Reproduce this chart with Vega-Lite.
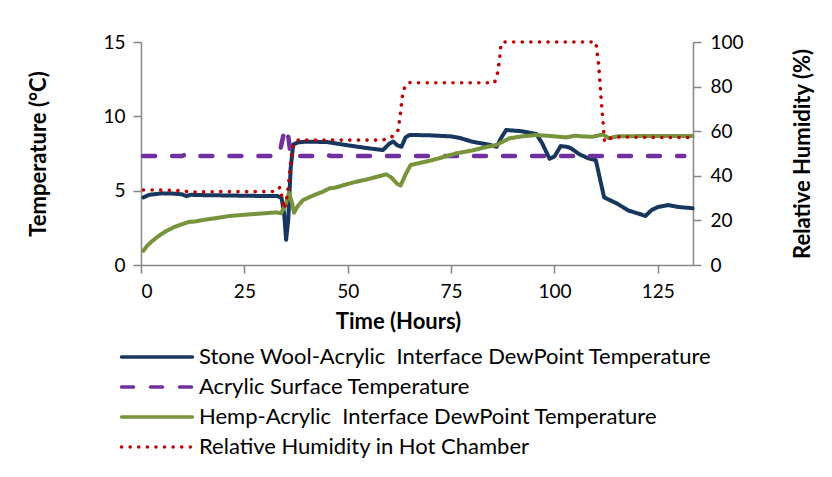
{
  "$schema": "https://vega.github.io/schema/vega-lite/v6.json",
  "width": 552,
  "height": 223,
  "autosize": {"type": "none"},
  "padding": {"left": 141, "top": 42, "right": 139, "bottom": 212},
  "background": "white",
  "config": {
    "view": {"stroke": null},
    "font": "Lato",
    "axis": {
      "domainColor": "#868686",
      "domainWidth": 1.5,
      "tickColor": "#868686",
      "tickWidth": 1.5,
      "tickSize": 8,
      "grid": false,
      "labelFont": "Lato",
      "labelFontSize": 19,
      "labelColor": "#000000",
      "labelPadding": 8,
      "titleFont": "Lato",
      "titleFontSize": 22,
      "titleFontWeight": "bold",
      "titleColor": "#000000"
    }
  },
  "datasets": {
    "d": [
      {"s": "Stone Wool-Acrylic \u00a0Interface DewPoint Temperature", "h": 0.6, "v": 4.55},
      {"s": "Stone Wool-Acrylic \u00a0Interface DewPoint Temperature", "h": 2, "v": 4.72},
      {"s": "Stone Wool-Acrylic \u00a0Interface DewPoint Temperature", "h": 5, "v": 4.82},
      {"s": "Stone Wool-Acrylic \u00a0Interface DewPoint Temperature", "h": 8, "v": 4.8},
      {"s": "Stone Wool-Acrylic \u00a0Interface DewPoint Temperature", "h": 10, "v": 4.75},
      {"s": "Stone Wool-Acrylic \u00a0Interface DewPoint Temperature", "h": 11, "v": 4.63},
      {"s": "Stone Wool-Acrylic \u00a0Interface DewPoint Temperature", "h": 12, "v": 4.72},
      {"s": "Stone Wool-Acrylic \u00a0Interface DewPoint Temperature", "h": 15, "v": 4.7},
      {"s": "Stone Wool-Acrylic \u00a0Interface DewPoint Temperature", "h": 20, "v": 4.68},
      {"s": "Stone Wool-Acrylic \u00a0Interface DewPoint Temperature", "h": 25, "v": 4.66},
      {"s": "Stone Wool-Acrylic \u00a0Interface DewPoint Temperature", "h": 30, "v": 4.64},
      {"s": "Stone Wool-Acrylic \u00a0Interface DewPoint Temperature", "h": 33, "v": 4.64},
      {"s": "Stone Wool-Acrylic \u00a0Interface DewPoint Temperature", "h": 34, "v": 4.5},
      {"s": "Stone Wool-Acrylic \u00a0Interface DewPoint Temperature", "h": 34.6, "v": 3.5},
      {"s": "Stone Wool-Acrylic \u00a0Interface DewPoint Temperature", "h": 35.1, "v": 1.7},
      {"s": "Stone Wool-Acrylic \u00a0Interface DewPoint Temperature", "h": 35.6, "v": 3.0},
      {"s": "Stone Wool-Acrylic \u00a0Interface DewPoint Temperature", "h": 36.2, "v": 6.5},
      {"s": "Stone Wool-Acrylic \u00a0Interface DewPoint Temperature", "h": 36.8, "v": 8.1},
      {"s": "Stone Wool-Acrylic \u00a0Interface DewPoint Temperature", "h": 38, "v": 8.25},
      {"s": "Stone Wool-Acrylic \u00a0Interface DewPoint Temperature", "h": 40, "v": 8.3},
      {"s": "Stone Wool-Acrylic \u00a0Interface DewPoint Temperature", "h": 45, "v": 8.27},
      {"s": "Stone Wool-Acrylic \u00a0Interface DewPoint Temperature", "h": 50, "v": 8.05},
      {"s": "Stone Wool-Acrylic \u00a0Interface DewPoint Temperature", "h": 55, "v": 7.85},
      {"s": "Stone Wool-Acrylic \u00a0Interface DewPoint Temperature", "h": 58.5, "v": 7.73},
      {"s": "Stone Wool-Acrylic \u00a0Interface DewPoint Temperature", "h": 60, "v": 8.15},
      {"s": "Stone Wool-Acrylic \u00a0Interface DewPoint Temperature", "h": 61, "v": 8.3},
      {"s": "Stone Wool-Acrylic \u00a0Interface DewPoint Temperature", "h": 62, "v": 8.05},
      {"s": "Stone Wool-Acrylic \u00a0Interface DewPoint Temperature", "h": 63, "v": 7.95},
      {"s": "Stone Wool-Acrylic \u00a0Interface DewPoint Temperature", "h": 64, "v": 8.6},
      {"s": "Stone Wool-Acrylic \u00a0Interface DewPoint Temperature", "h": 65, "v": 8.75},
      {"s": "Stone Wool-Acrylic \u00a0Interface DewPoint Temperature", "h": 70, "v": 8.72},
      {"s": "Stone Wool-Acrylic \u00a0Interface DewPoint Temperature", "h": 75, "v": 8.65},
      {"s": "Stone Wool-Acrylic \u00a0Interface DewPoint Temperature", "h": 77, "v": 8.55},
      {"s": "Stone Wool-Acrylic \u00a0Interface DewPoint Temperature", "h": 80, "v": 8.3},
      {"s": "Stone Wool-Acrylic \u00a0Interface DewPoint Temperature", "h": 84, "v": 8.1},
      {"s": "Stone Wool-Acrylic \u00a0Interface DewPoint Temperature", "h": 86, "v": 7.95},
      {"s": "Stone Wool-Acrylic \u00a0Interface DewPoint Temperature", "h": 87, "v": 8.5},
      {"s": "Stone Wool-Acrylic \u00a0Interface DewPoint Temperature", "h": 88.3, "v": 9.08},
      {"s": "Stone Wool-Acrylic \u00a0Interface DewPoint Temperature", "h": 92, "v": 9.0},
      {"s": "Stone Wool-Acrylic \u00a0Interface DewPoint Temperature", "h": 95.6, "v": 8.81},
      {"s": "Stone Wool-Acrylic \u00a0Interface DewPoint Temperature", "h": 97, "v": 8.2},
      {"s": "Stone Wool-Acrylic \u00a0Interface DewPoint Temperature", "h": 98.8, "v": 7.15},
      {"s": "Stone Wool-Acrylic \u00a0Interface DewPoint Temperature", "h": 100, "v": 7.3},
      {"s": "Stone Wool-Acrylic \u00a0Interface DewPoint Temperature", "h": 101.5, "v": 8.0},
      {"s": "Stone Wool-Acrylic \u00a0Interface DewPoint Temperature", "h": 103, "v": 7.95},
      {"s": "Stone Wool-Acrylic \u00a0Interface DewPoint Temperature", "h": 104, "v": 7.85},
      {"s": "Stone Wool-Acrylic \u00a0Interface DewPoint Temperature", "h": 106, "v": 7.45},
      {"s": "Stone Wool-Acrylic \u00a0Interface DewPoint Temperature", "h": 108, "v": 7.2},
      {"s": "Stone Wool-Acrylic \u00a0Interface DewPoint Temperature", "h": 110, "v": 7.05},
      {"s": "Stone Wool-Acrylic \u00a0Interface DewPoint Temperature", "h": 111, "v": 5.8},
      {"s": "Stone Wool-Acrylic \u00a0Interface DewPoint Temperature", "h": 112, "v": 4.55},
      {"s": "Stone Wool-Acrylic \u00a0Interface DewPoint Temperature", "h": 113.5, "v": 4.35},
      {"s": "Stone Wool-Acrylic \u00a0Interface DewPoint Temperature", "h": 115, "v": 4.15},
      {"s": "Stone Wool-Acrylic \u00a0Interface DewPoint Temperature", "h": 116.5, "v": 3.9},
      {"s": "Stone Wool-Acrylic \u00a0Interface DewPoint Temperature", "h": 118, "v": 3.65},
      {"s": "Stone Wool-Acrylic \u00a0Interface DewPoint Temperature", "h": 120, "v": 3.48},
      {"s": "Stone Wool-Acrylic \u00a0Interface DewPoint Temperature", "h": 122, "v": 3.3},
      {"s": "Stone Wool-Acrylic \u00a0Interface DewPoint Temperature", "h": 123.5, "v": 3.7},
      {"s": "Stone Wool-Acrylic \u00a0Interface DewPoint Temperature", "h": 125, "v": 3.9},
      {"s": "Stone Wool-Acrylic \u00a0Interface DewPoint Temperature", "h": 127.5, "v": 4.03},
      {"s": "Stone Wool-Acrylic \u00a0Interface DewPoint Temperature", "h": 130, "v": 3.9},
      {"s": "Stone Wool-Acrylic \u00a0Interface DewPoint Temperature", "h": 133.4, "v": 3.82},

      {"s": "Acrylic Surface Temperature", "h": 0.5, "v": 7.33},
      {"s": "Acrylic Surface Temperature", "h": 10, "v": 7.33},
      {"s": "Acrylic Surface Temperature", "h": 10.6, "v": 7.42},
      {"s": "Acrylic Surface Temperature", "h": 11.2, "v": 7.33},
      {"s": "Acrylic Surface Temperature", "h": 33.3, "v": 7.33},
      {"s": "Acrylic Surface Temperature", "h": 33.8, "v": 7.9},
      {"s": "Acrylic Surface Temperature", "h": 34.5, "v": 8.8},
      {"s": "Acrylic Surface Temperature", "h": 35.2, "v": 9.2},
      {"s": "Acrylic Surface Temperature", "h": 35.7, "v": 8.5},
      {"s": "Acrylic Surface Temperature", "h": 36.2, "v": 7.33},
      {"s": "Acrylic Surface Temperature", "h": 44, "v": 7.33},
      {"s": "Acrylic Surface Temperature", "h": 45, "v": 7.4},
      {"s": "Acrylic Surface Temperature", "h": 46, "v": 7.33},
      {"s": "Acrylic Surface Temperature", "h": 131.4, "v": 7.33},

      {"s": "Hemp-Acrylic \u00a0Interface DewPoint Temperature", "h": 0.6, "v": 0.96},
      {"s": "Hemp-Acrylic \u00a0Interface DewPoint Temperature", "h": 1.5, "v": 1.3},
      {"s": "Hemp-Acrylic \u00a0Interface DewPoint Temperature", "h": 3, "v": 1.68},
      {"s": "Hemp-Acrylic \u00a0Interface DewPoint Temperature", "h": 4.5, "v": 2.0},
      {"s": "Hemp-Acrylic \u00a0Interface DewPoint Temperature", "h": 6.2, "v": 2.3},
      {"s": "Hemp-Acrylic \u00a0Interface DewPoint Temperature", "h": 8, "v": 2.55},
      {"s": "Hemp-Acrylic \u00a0Interface DewPoint Temperature", "h": 10, "v": 2.75},
      {"s": "Hemp-Acrylic \u00a0Interface DewPoint Temperature", "h": 11.8, "v": 2.91},
      {"s": "Hemp-Acrylic \u00a0Interface DewPoint Temperature", "h": 13, "v": 2.92},
      {"s": "Hemp-Acrylic \u00a0Interface DewPoint Temperature", "h": 15, "v": 3.03},
      {"s": "Hemp-Acrylic \u00a0Interface DewPoint Temperature", "h": 18, "v": 3.15},
      {"s": "Hemp-Acrylic \u00a0Interface DewPoint Temperature", "h": 21.5, "v": 3.3},
      {"s": "Hemp-Acrylic \u00a0Interface DewPoint Temperature", "h": 25, "v": 3.38},
      {"s": "Hemp-Acrylic \u00a0Interface DewPoint Temperature", "h": 29, "v": 3.46},
      {"s": "Hemp-Acrylic \u00a0Interface DewPoint Temperature", "h": 32.8, "v": 3.54},
      {"s": "Hemp-Acrylic \u00a0Interface DewPoint Temperature", "h": 33.9, "v": 3.48},
      {"s": "Hemp-Acrylic \u00a0Interface DewPoint Temperature", "h": 35, "v": 4.1},
      {"s": "Hemp-Acrylic \u00a0Interface DewPoint Temperature", "h": 35.8, "v": 4.86},
      {"s": "Hemp-Acrylic \u00a0Interface DewPoint Temperature", "h": 36.5, "v": 4.2},
      {"s": "Hemp-Acrylic \u00a0Interface DewPoint Temperature", "h": 37, "v": 3.52},
      {"s": "Hemp-Acrylic \u00a0Interface DewPoint Temperature", "h": 38, "v": 4.0},
      {"s": "Hemp-Acrylic \u00a0Interface DewPoint Temperature", "h": 39.2, "v": 4.37},
      {"s": "Hemp-Acrylic \u00a0Interface DewPoint Temperature", "h": 42, "v": 4.72},
      {"s": "Hemp-Acrylic \u00a0Interface DewPoint Temperature", "h": 44, "v": 4.93},
      {"s": "Hemp-Acrylic \u00a0Interface DewPoint Temperature", "h": 45.6, "v": 5.16},
      {"s": "Hemp-Acrylic \u00a0Interface DewPoint Temperature", "h": 47, "v": 5.2},
      {"s": "Hemp-Acrylic \u00a0Interface DewPoint Temperature", "h": 50, "v": 5.45},
      {"s": "Hemp-Acrylic \u00a0Interface DewPoint Temperature", "h": 52.1, "v": 5.6},
      {"s": "Hemp-Acrylic \u00a0Interface DewPoint Temperature", "h": 55, "v": 5.78},
      {"s": "Hemp-Acrylic \u00a0Interface DewPoint Temperature", "h": 59.3, "v": 6.1},
      {"s": "Hemp-Acrylic \u00a0Interface DewPoint Temperature", "h": 60.5, "v": 5.9},
      {"s": "Hemp-Acrylic \u00a0Interface DewPoint Temperature", "h": 62, "v": 5.45},
      {"s": "Hemp-Acrylic \u00a0Interface DewPoint Temperature", "h": 62.8, "v": 5.35},
      {"s": "Hemp-Acrylic \u00a0Interface DewPoint Temperature", "h": 64, "v": 6.1},
      {"s": "Hemp-Acrylic \u00a0Interface DewPoint Temperature", "h": 65.2, "v": 6.72},
      {"s": "Hemp-Acrylic \u00a0Interface DewPoint Temperature", "h": 68, "v": 6.9},
      {"s": "Hemp-Acrylic \u00a0Interface DewPoint Temperature", "h": 70.6, "v": 7.06},
      {"s": "Hemp-Acrylic \u00a0Interface DewPoint Temperature", "h": 73, "v": 7.25},
      {"s": "Hemp-Acrylic \u00a0Interface DewPoint Temperature", "h": 76.3, "v": 7.51},
      {"s": "Hemp-Acrylic \u00a0Interface DewPoint Temperature", "h": 80, "v": 7.7},
      {"s": "Hemp-Acrylic \u00a0Interface DewPoint Temperature", "h": 83, "v": 7.9},
      {"s": "Hemp-Acrylic \u00a0Interface DewPoint Temperature", "h": 85.9, "v": 8.07},
      {"s": "Hemp-Acrylic \u00a0Interface DewPoint Temperature", "h": 87.5, "v": 8.3},
      {"s": "Hemp-Acrylic \u00a0Interface DewPoint Temperature", "h": 89.1, "v": 8.52},
      {"s": "Hemp-Acrylic \u00a0Interface DewPoint Temperature", "h": 92, "v": 8.65},
      {"s": "Hemp-Acrylic \u00a0Interface DewPoint Temperature", "h": 95.6, "v": 8.74},
      {"s": "Hemp-Acrylic \u00a0Interface DewPoint Temperature", "h": 99, "v": 8.68},
      {"s": "Hemp-Acrylic \u00a0Interface DewPoint Temperature", "h": 102.8, "v": 8.58},
      {"s": "Hemp-Acrylic \u00a0Interface DewPoint Temperature", "h": 105, "v": 8.7},
      {"s": "Hemp-Acrylic \u00a0Interface DewPoint Temperature", "h": 107, "v": 8.64},
      {"s": "Hemp-Acrylic \u00a0Interface DewPoint Temperature", "h": 109.3, "v": 8.63},
      {"s": "Hemp-Acrylic \u00a0Interface DewPoint Temperature", "h": 111.7, "v": 8.78},
      {"s": "Hemp-Acrylic \u00a0Interface DewPoint Temperature", "h": 113.3, "v": 8.52},
      {"s": "Hemp-Acrylic \u00a0Interface DewPoint Temperature", "h": 115, "v": 8.65},
      {"s": "Hemp-Acrylic \u00a0Interface DewPoint Temperature", "h": 120, "v": 8.67},
      {"s": "Hemp-Acrylic \u00a0Interface DewPoint Temperature", "h": 125, "v": 8.67},
      {"s": "Hemp-Acrylic \u00a0Interface DewPoint Temperature", "h": 133.4, "v": 8.67},

      {"s": "Relative Humidity in Hot Chamber", "h": 0.6, "v": 33.6},
      {"s": "Relative Humidity in Hot Chamber", "h": 5, "v": 33.6},
      {"s": "Relative Humidity in Hot Chamber", "h": 10, "v": 33.3},
      {"s": "Relative Humidity in Hot Chamber", "h": 12, "v": 32.7},
      {"s": "Relative Humidity in Hot Chamber", "h": 20, "v": 32.9},
      {"s": "Relative Humidity in Hot Chamber", "h": 30, "v": 32.9},
      {"s": "Relative Humidity in Hot Chamber", "h": 32.6, "v": 33.0},
      {"s": "Relative Humidity in Hot Chamber", "h": 33.6, "v": 34.8},
      {"s": "Relative Humidity in Hot Chamber", "h": 34.1, "v": 30.5},
      {"s": "Relative Humidity in Hot Chamber", "h": 34.6, "v": 25.1},
      {"s": "Relative Humidity in Hot Chamber", "h": 35.1, "v": 28},
      {"s": "Relative Humidity in Hot Chamber", "h": 35.6, "v": 35.1},
      {"s": "Relative Humidity in Hot Chamber", "h": 36.2, "v": 46},
      {"s": "Relative Humidity in Hot Chamber", "h": 36.8, "v": 54.1},
      {"s": "Relative Humidity in Hot Chamber", "h": 38, "v": 56},
      {"s": "Relative Humidity in Hot Chamber", "h": 45, "v": 56},
      {"s": "Relative Humidity in Hot Chamber", "h": 55, "v": 56},
      {"s": "Relative Humidity in Hot Chamber", "h": 58.5, "v": 56},
      {"s": "Relative Humidity in Hot Chamber", "h": 61, "v": 57.8},
      {"s": "Relative Humidity in Hot Chamber", "h": 62.2, "v": 60.5},
      {"s": "Relative Humidity in Hot Chamber", "h": 62.8, "v": 69},
      {"s": "Relative Humidity in Hot Chamber", "h": 63.4, "v": 78.5},
      {"s": "Relative Humidity in Hot Chamber", "h": 64.6, "v": 81.8},
      {"s": "Relative Humidity in Hot Chamber", "h": 70, "v": 81.7},
      {"s": "Relative Humidity in Hot Chamber", "h": 80, "v": 81.7},
      {"s": "Relative Humidity in Hot Chamber", "h": 85.5, "v": 81.7},
      {"s": "Relative Humidity in Hot Chamber", "h": 86.2, "v": 86},
      {"s": "Relative Humidity in Hot Chamber", "h": 86.7, "v": 92},
      {"s": "Relative Humidity in Hot Chamber", "h": 87.1, "v": 99.4},
      {"s": "Relative Humidity in Hot Chamber", "h": 87.6, "v": 100},
      {"s": "Relative Humidity in Hot Chamber", "h": 95, "v": 100},
      {"s": "Relative Humidity in Hot Chamber", "h": 105, "v": 100},
      {"s": "Relative Humidity in Hot Chamber", "h": 110, "v": 100},
      {"s": "Relative Humidity in Hot Chamber", "h": 110.7, "v": 89.7},
      {"s": "Relative Humidity in Hot Chamber", "h": 111.3, "v": 74},
      {"s": "Relative Humidity in Hot Chamber", "h": 111.8, "v": 63},
      {"s": "Relative Humidity in Hot Chamber", "h": 112.1, "v": 55.3},
      {"s": "Relative Humidity in Hot Chamber", "h": 113, "v": 56.5},
      {"s": "Relative Humidity in Hot Chamber", "h": 114.5, "v": 57.5},
      {"s": "Relative Humidity in Hot Chamber", "h": 120, "v": 57.3},
      {"s": "Relative Humidity in Hot Chamber", "h": 125, "v": 57.2},
      {"s": "Relative Humidity in Hot Chamber", "h": 133.4, "v": 57.2}
    ]
  },
  "data": {"name": "d"},
  "encoding": {
    "x": {
      "field": "h", "type": "quantitative",
      "scale": {"domain": [0, 133.5], "nice": false, "zero": false},
      "axis": {"values": [0, 25, 50, 75, 100, 125], "title": "Time (Hours)", "titleX": 257, "titleY": 63, "titleBaseline": "alphabetic", "titleAnchor": null, "labelPadding": 9}
    },
    "color": {
      "field": "s", "type": "nominal",
      "scale": {
        "domain": ["Stone Wool-Acrylic \u00a0Interface DewPoint Temperature", "Acrylic Surface Temperature", "Hemp-Acrylic \u00a0Interface DewPoint Temperature", "Relative Humidity in Hot Chamber"],
        "range": ["#17375E", "#7030A0", "#77933C", "#C00000"]
      },
      "legend": {
        "title": null,
        "orient": "none",
        "legendX": 2,
        "legendY": 301,
        "padding": 0,
        "symbolType": "M-3,0H3",
        "symbolSize": 560,
        "symbolStrokeWidth": 3.5,
        "labelOffset": 28,
        "labelFont": "Lato",
        "labelFontSize": 22,
        "labelColor": "#000000",
        "labelLimit": 700,
        "rowPadding": 5,
        "encode": {"symbols": {"update": {"strokeCap": {"value": "round"}}}}
      }
    },
    "strokeDash": {
      "field": "s", "type": "nominal",
      "scale": {
        "domain": ["Stone Wool-Acrylic \u00a0Interface DewPoint Temperature", "Acrylic Surface Temperature", "Hemp-Acrylic \u00a0Interface DewPoint Temperature", "Relative Humidity in Hot Chamber"],
        "range": [[1, 0], [12, 17], [1, 0], [0.1, 8.5]]
      },
      "legend": null
    }
  },
  "layer": [
    {
      "layer": [
        {"transform": [{"filter": "datum.s == 'Stone Wool-Acrylic \u00a0Interface DewPoint Temperature'"}], "mark": {"type": "line", "strokeWidth": 4, "strokeCap": "round", "strokeJoin": "round"}},
        {"transform": [{"filter": "datum.s == 'Acrylic Surface Temperature'"}], "mark": {"type": "line", "strokeWidth": 4.5, "strokeCap": "round", "strokeJoin": "round"}},
        {"transform": [{"filter": "datum.s == 'Hemp-Acrylic \u00a0Interface DewPoint Temperature'"}], "mark": {"type": "line", "strokeWidth": 4, "strokeCap": "round", "strokeJoin": "round"}}
      ],
      "encoding": {
        "y": {
          "field": "v", "type": "quantitative",
          "scale": {"domain": [0, 15], "nice": false},
          "axis": {"values": [0, 5, 10, 15], "title": "Temperature (°C)", "orient": "left", "titleAngle": 270, "titleX": -103, "titleY": 111.5, "titleBaseline": "middle", "titleAlign": "center", "labelPadding": 8}
        }
      }
    },
    {
      "transform": [{"filter": "datum.s == 'Relative Humidity in Hot Chamber'"}],
      "mark": {"type": "line", "strokeWidth": 3.6, "strokeCap": "round", "strokeJoin": "round"},
      "encoding": {
        "y": {
          "field": "v", "type": "quantitative",
          "scale": {"domain": [0, 100], "nice": false},
          "axis": {"values": [0, 20, 40, 60, 80, 100], "title": "Relative Humidity (%)", "orient": "right", "titleAngle": 270, "titleX": 109, "titleY": 111.5, "titleBaseline": "middle", "titleAlign": "center", "labelPadding": 9}
        }
      }
    }
  ],
  "resolve": {"scale": {"y": "independent"}}
}
